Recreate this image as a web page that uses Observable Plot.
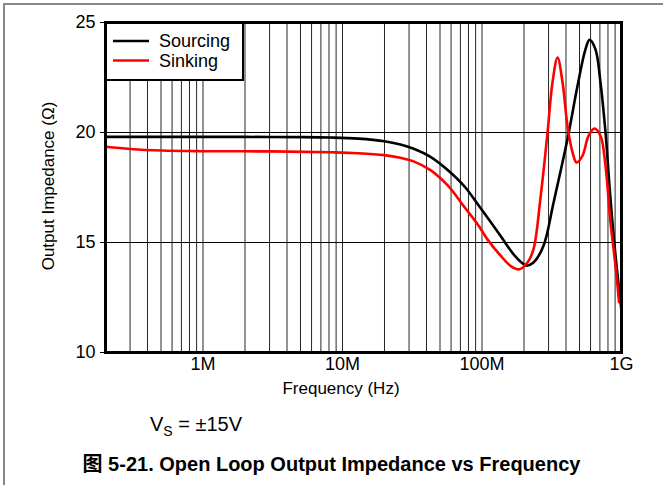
<!DOCTYPE html>
<html><head><meta charset="utf-8">
<script src="https://cdn.jsdelivr.net/npm/d3@7"></script>
<script src="https://cdn.jsdelivr.net/npm/@observablehq/plot@0.6"></script>
<style>
body{margin:0;background:#fff;font-family:"Liberation Sans",Arial,"Noto Sans CJK SC",sans-serif;}
#wrap{position:relative;width:663px;height:485px;overflow:hidden;background:#fff;}
#frameTop{position:absolute;left:3px;top:3px;width:660px;height:2px;background:#888;}
#frameLeft{position:absolute;left:3px;top:3px;width:2px;height:482px;background:#888;}
#chart{position:absolute;left:0;top:0;}
#vs{position:absolute;left:150px;top:412px;font-size:20px;line-height:24px;color:#000;white-space:nowrap;}
#vs span{font-size:14px;position:relative;top:5px;}
#caption{position:absolute;left:0;width:663px;text-align:center;top:452px;font-size:20px;line-height:24px;font-weight:bold;color:#000;white-space:nowrap;}
</style>
</head><body>
<div id="wrap">
<div id="chart"></div>
<div id="frameTop"></div><div id="frameLeft"></div>
<div id="vs">V<span>S</span> = ±15V</div>
<div id="caption">图 5-21. Open Loop Output Impedance vs Frequency</div>
</div>
<script>
const seriesNames = ["Sourcing", "Sinking"];
const seriesColors = ["#000000", "#ff0000"];

const freqSourcing = [2e5, 5e5, 1e6, 2e6, 5e6, 8.2e6, 1.3e7, 2e7, 2.6e7, 3.2e7, 4.3e7, 5.7e7, 7.6e7, 9.3e7, 1.12e8, 1.36e8, 1.68e8, 1.98e8, 2.08e8, 2.34e8, 2.76e8, 3.26e8, 4.1e8, 4.84e8, 5.52e8, 5.9e8, 6.5e8, 7.07e8, 7.68e8, 8.34e8, 9.06e8, 1e9];
const zSourcing    = [19.80, 19.80, 19.80, 19.80, 19.79, 19.77, 19.72, 19.60, 19.45, 19.27, 18.88, 18.28, 17.50, 16.75, 16.05, 15.30, 14.47, 14.02, 13.95, 14.09, 14.85, 16.82, 19.70, 22.12, 23.79, 24.21, 23.79, 22.27, 20.00, 16.97, 14.40, 11.90];

const freqSinking = [2e5, 3e5, 5e5, 1e6, 3e6, 8.2e6, 1.3e7, 2e7, 2.6e7, 3.2e7, 4.3e7, 5.7e7, 7.5e7, 9.3e7, 1.1e8, 1.36e8, 1.6e8, 1.85e8, 2.12e8, 2.34e8, 2.62e8, 2.95e8, 3.2e8, 3.48e8, 3.78e8, 4.1e8, 4.46e8, 4.76e8, 5.25e8, 5.8e8, 6.4e8, 7.07e8, 7.68e8, 8.34e8, 9.06e8, 9.6e8];
const zSinking    = [19.35, 19.25, 19.18, 19.15, 19.14, 19.10, 19.06, 18.97, 18.85, 18.70, 18.28, 17.58, 16.60, 15.83, 15.12, 14.40, 13.94, 13.78, 14.09, 14.70, 16.97, 20.00, 22.27, 23.41, 22.27, 20.30, 19.09, 18.64, 18.94, 19.85, 20.18, 19.85, 18.49, 15.90, 13.94, 12.30];

const xDomain = [2e5, 1e9];
const yDomain = [10, 25];
const xTicks = [1e6, 1e7, 1e8, 1e9];
const xTickLabels = ["1M", "10M", "100M", "1G"];
const yTicks = [10, 15, 20, 25];
const yGrid = [15, 20];
const xTitle = "Frequency (Hz)";
const yTitle = "Output Impedance (Ω)";

const data = [
  ...freqSourcing.map((f, i) => ({f, z: zSourcing[i], series: seriesNames[0]})),
  ...freqSinking.map((f, i) => ({f, z: zSinking[i], series: seriesNames[1]}))
];
const minorGrid = d3.scaleLog().domain(xDomain).ticks().filter(t => t > xDomain[0] && t < xDomain[1]);
const labelOf = new Map(xTicks.map((t, i) => [t, xTickLabels[i]]));

const W = 663, H = 400, mL = 105, mR = 42, mT = 22, mB = 48;
const chart = Plot.plot({
  width: W, height: H, marginLeft: mL, marginRight: mR, marginTop: mT, marginBottom: mB,
  x: {type: "log", domain: xDomain},
  y: {domain: yDomain},
  color: {domain: seriesNames, range: seriesColors},
  style: {fontFamily: '"Liberation Sans", Arial, sans-serif', fontSize: "18px", color: "#000", background: "transparent", overflow: "visible"},
  marks: [
    Plot.gridX(minorGrid, {stroke: "#000", strokeOpacity: 0.85, strokeWidth: 1}),
    Plot.gridY(yGrid, {stroke: "#000", strokeOpacity: 1, strokeWidth: 1}),
    Plot.line(data, {x: "f", y: "z", z: "series", stroke: "series", curve: "catmull-rom", strokeWidth: 2.6}),
    Plot.axisX(xTicks, {tickSize: 0, tickPadding: 5, tickFormat: d => labelOf.get(d), label: null, fontSize: 18}),
    Plot.axisY(yTicks, {tickSize: 5, tickPadding: 5, label: null, fontSize: 18}),
    Plot.frame({stroke: "#000", strokeWidth: 3})
  ]
});
document.getElementById("chart").appendChild(chart);

const svg = d3.select(chart);
// legend
const lg = svg.append("g").attr("class", "legend").attr("text-anchor", "start");
lg.append("rect").attr("x", mL).attr("y", mT).attr("width", 138).attr("height", 58)
  .attr("fill", "#fff").attr("stroke", "#000").attr("stroke-width", 2);
seriesNames.forEach((name, i) => {
  const yy = 41 + i * 19.5;
  lg.append("line").attr("x1", 113).attr("x2", 149).attr("y1", yy).attr("y2", yy)
    .attr("stroke", seriesColors[i]).attr("stroke-width", 2.6);
  lg.append("text").attr("x", 159).attr("y", yy).attr("dy", "0.35em").attr("text-anchor", "start")
    .attr("font-size", 18).attr("fill", "#000").text(name);
});
// bring frame to top
const fr = chart.querySelector('[aria-label="frame"]');
if (fr) chart.appendChild(fr);
// axis titles
svg.append("text").attr("x", 341).attr("y", 394).attr("text-anchor", "middle")
  .attr("font-size", 17).attr("fill", "#000").text(xTitle);
svg.append("text").attr("transform", "translate(48,186) rotate(-90)").attr("text-anchor", "middle")
  .attr("dy", "0.35em").attr("font-size", 17).attr("fill", "#000").text(yTitle);
</script>
</body></html>
